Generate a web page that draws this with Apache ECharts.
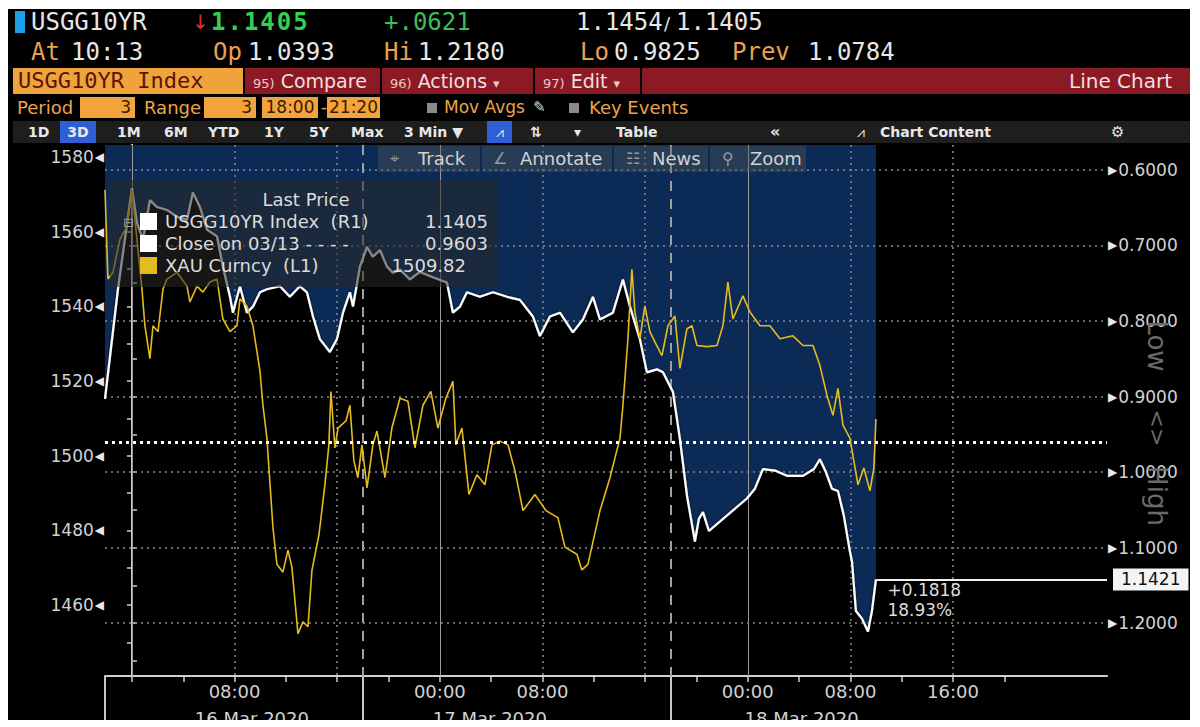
<!DOCTYPE html>
<html><head><meta charset="utf-8">
<script src="https://cdn.jsdelivr.net/npm/echarts@6/dist/echarts.min.js"></script>
<style>
body{margin:0;width:1200px;height:727px;background:#fff;overflow:hidden;position:relative;font-family:'DejaVu Sans',sans-serif;}
#panel{position:absolute;left:8px;top:9px;width:1182px;height:711px;background:#000;}
#chart{position:absolute;left:0;top:0;width:1200px;height:727px;}
.t{position:absolute;white-space:pre;line-height:24px;}
.mono{font-family:'DejaVu Sans Mono',monospace;font-size:24px;}
.or{color:#e9a14a;}
.wh{color:#e6e6e6;}
.btn{position:absolute;top:68px;height:26px;line-height:26px;background:#8c1a25;color:#f4dede;font-size:19px;white-space:pre;}
.btn small{font-size:13px;color:#f0c8c8;}
.ibox{position:absolute;top:97px;height:21px;line-height:21px;background:#f2a33c;color:#3a1a00;font-size:17px;white-space:pre;}
.r4{position:absolute;top:97px;height:21px;line-height:21px;color:#eda447;font-size:17px;white-space:pre;}
.sq{position:absolute;top:103px;width:10px;height:10px;background:#8a8a8a;}
.r5{position:absolute;top:121px;height:22px;line-height:22px;color:#e8e8e8;font-size:14px;font-weight:700;white-space:pre;}
.tb{position:absolute;top:146px;height:26px;line-height:26px;background:rgba(90,90,90,0.38);color:#d2d2d2;font-size:18px;white-space:pre;}
.tb span{position:absolute;top:0;color:#9a9a9a;font-size:16px;}
#leg{position:absolute;left:110px;top:180px;width:388px;height:107px;background:rgba(40,40,40,0.55);color:#dcdcdc;font-size:18px;}
#leg div{position:absolute;white-space:pre;line-height:21px;}
#leg .sw{width:17px;height:17px;}
.lh{position:absolute;left:1157px;transform:translate(-50%,-50%) rotate(90deg);color:#6a6a6a;font-size:26px;white-space:pre;line-height:30px;}
#mask{position:absolute;left:0;top:720px;width:1200px;height:7px;background:#fff;}
</style></head>
<body>
<div id="panel"></div>
<div id="chart"></div>

<!-- header row 1 -->
<div style="position:absolute;left:15px;top:11px;width:10px;height:22px;background:#1e9fe8"></div>
<div class="t mono wh" style="left:31px;top:10px">USGG10YR</div>
<div class="t" style="left:192px;top:10px;color:#e2302a;font-size:20px">↓</div>
<div class="t mono" style="left:211px;top:10px;color:#34d24c;font-weight:bold;letter-spacing:2px">1.1405</div>
<div class="t mono" style="left:384px;top:10px;color:#3bbf57">+.0621</div>
<div class="t mono wh" style="left:576px;top:10px">1.1454</div>
<div class="t wh" style="left:664px;top:12px;font-size:18px">/</div>
<div class="t mono wh" style="left:676px;top:10px">1.1405</div>
<!-- header row 2 -->
<div class="t mono or" style="left:31px;top:40px">At</div>
<div class="t mono wh" style="left:71px;top:40px">10:13</div>
<div class="t mono or" style="left:213px;top:40px">Op</div>
<div class="t mono wh" style="left:248px;top:40px">1.0393</div>
<div class="t mono or" style="left:384px;top:40px">Hi</div>
<div class="t mono wh" style="left:418px;top:40px">1.2180</div>
<div class="t mono or" style="left:580px;top:40px">Lo</div>
<div class="t mono wh" style="left:614px;top:40px">0.9825</div>
<div class="t mono or" style="left:732px;top:40px">Prev</div>
<div class="t mono wh" style="left:808px;top:40px">1.0784</div>
<!-- row 3 -->
<div style="position:absolute;left:13px;top:68px;width:230px;height:26px;line-height:26px;background:#f0a33a;color:#5a1408;font-family:'DejaVu Sans Mono',monospace;font-size:22px;white-space:pre;padding-left:5px;box-sizing:border-box">USGG10YR Index</div>
<div class="btn" style="left:245px;width:135px;padding-left:8px;box-sizing:border-box"><small>95)</small> Compare</div>
<div class="btn" style="left:382px;width:151px;padding-left:8px;box-sizing:border-box"><small>96)</small> Actions <small>▾</small></div>
<div class="btn" style="left:535px;width:105px;padding-left:8px;box-sizing:border-box"><small>97)</small> Edit <small>▾</small></div>
<div class="btn" style="left:642px;width:548px;text-align:right;padding-right:18px;box-sizing:border-box;font-size:20px">Line Chart</div>
<!-- row 4 -->
<div class="r4" style="left:17px;font-size:18px">Period</div>
<div class="ibox" style="left:80px;width:55px;text-align:right;padding-right:4px;box-sizing:border-box">3</div>
<div class="r4" style="left:144px;font-size:18px">Range</div>
<div class="ibox" style="left:204px;width:52px;text-align:right;padding-right:4px;box-sizing:border-box">3</div>
<div class="ibox" style="left:262px;width:56px;text-align:center">18:00</div>
<div class="r4" style="left:321px">-</div>
<div class="ibox" style="left:327px;width:53px;text-align:center">21:20</div>
<div class="sq" style="left:427px"></div>
<div class="r4" style="left:444px;font-size:17px">Mov Avgs</div>
<div class="r4" style="left:533px;color:#cfcfcf;font-size:15px">✎</div>
<div class="sq" style="left:569px"></div>
<div class="r4" style="left:589px;font-size:18px">Key Events</div>
<!-- row 5 -->
<div style="position:absolute;left:13px;top:121px;width:1177px;height:22px;background:#1e1e1e"></div>
<div class="r5" style="left:28px">1D</div>
<div class="r5" style="left:60px;width:36px;text-align:center;background:#2f5fd6">3D</div>
<div class="r5" style="left:117px">1M</div>
<div class="r5" style="left:164px">6M</div>
<div class="r5" style="left:208px">YTD</div>
<div class="r5" style="left:264px">1Y</div>
<div class="r5" style="left:309px">5Y</div>
<div class="r5" style="left:351px">Max</div>
<div class="r5" style="left:404px">3 Min ▼</div>
<div class="r5" style="left:487px;width:25px;text-align:center;background:#2f5fd6;font-weight:400">⩘</div>
<div class="r5" style="left:530px">⇅</div>
<div class="r5" style="left:574px">▾</div>
<div class="r5" style="left:616px">Table</div>
<div class="r5" style="left:770px;font-size:16px">«</div>
<div class="r5" style="left:857px;font-weight:400">⩘</div>
<div class="r5" style="left:880px">Chart Content</div>
<div class="r5" style="left:1111px;font-size:15px">⚙</div>
<!-- chart toolbar -->
<div class="tb" style="left:378px;width:102px"><span style="left:12px">⌖</span><b style="position:absolute;left:40px;font-weight:400">Track</b></div>
<div class="tb" style="left:482px;width:130px"><span style="left:11px">∠</span><b style="position:absolute;left:38px;font-weight:400">Annotate</b></div>
<div class="tb" style="left:614px;width:94px"><span style="left:12px">☷</span><b style="position:absolute;left:38px;font-weight:400">News</b></div>
<div class="tb" style="left:710px;width:96px"><span style="left:12px">⚲</span><b style="position:absolute;left:40px;font-weight:400">Zoom</b></div>
<!-- legend -->
<div id="leg">
  <div style="width:388px;text-align:center;top:9px;left:2px">Last Price</div>
  <div style="left:13px;top:32px;color:#999;font-size:13px">⊟</div>
  <div class="sw" style="left:30px;top:33px;background:#fff"></div>
  <div style="left:55px;top:31px">USGG10YR Index  (R1)</div>
  <div style="right:10px;top:31px">1.1405</div>
  <div class="sw" style="left:30px;top:55px;background:#fff"></div>
  <div style="left:55px;top:53px">Close on 03/13 - - - -</div>
  <div style="right:10px;top:53px">0.9603</div>
  <div class="sw" style="left:30px;top:77px;background:#e6bb1e"></div>
  <div style="left:55px;top:75px">XAU Curncy  (L1)</div>
  <div style="right:32px;top:75px">1509.82</div>
</div>
<div class="lh" style="top:346px">Low</div>
<div class="lh" style="top:428px;font-size:22px">&lt;&gt;</div>
<div class="lh" style="top:496px">High</div>
<div id="mask"></div>

<script>
// ---- data (hours since 16 Mar 2020 00:00) ----
const xMin = -2.1, xMax = 76;
const tickHours = [0,4,8,12,16,20,24,28,32,36,40,44,48,52,56,60,64,68];
const labelHours = [8,24,32,48,56,64];
const midnightHours = [0,24,48];
const dottedHours = [8,16,32,40,56,64];
const sessionBreakHours = [18,42];
const dateLabelHours = [9.35,27.9,52.2];
const dateLabels = ['16 Mar 2020','17 Mar 2020','18 Mar 2020'];
const goldTicks = [1460,1480,1500,1520,1540,1560,1580];
const goldMinorTicks = [1450,1460,1470,1480,1490,1500,1510,1520,1530,1540,1550,1560,1570,1580];
const yieldTicks = [0.6,0.7,0.8,0.9,1.0,1.1,1.2];
const yieldMinorTicks = [0.6,0.65,0.7,0.75,0.8,0.85,0.9,0.95,1.0,1.05,1.1,1.15,1.2,1.25];
const closePrev = 0.9603;
const lastYield = 1.1421;
const lastGold = 1509.82;
const changeText = ['+0.1818','18.93%'];

// USGG10YR yield [hour, %]
const yieldPoints = [
[-2.10,0.903],[-1.09,0.758],[0,0.624],[0.39,0.670],[0.86,0.692],[1.40,0.640],[1.95,0.649],[2.73,0.653],
[3.51,0.662],[4.29,0.666],[4.75,0.630],[5.30,0.649],[5.85,0.679],[6.63,0.688],[7.09,0.728],[7.64,0.768],
[7.87,0.789],[8.42,0.754],[8.96,0.789],[9.43,0.781],[9.98,0.762],[10.52,0.758],[11.54,0.754],[12.31,0.768],
[13.09,0.754],[13.64,0.762],[14.11,0.794],[14.65,0.824],[15.43,0.841],[15.98,0.824],[16.45,0.789],[16.99,0.762],
[17.23,0.781],[17.77,0.728],[18.32,0.702],[18.78,0.715],[19.33,0.706],[19.88,0.728],[20.34,0.736],[20.89,0.732],
[21.67,0.745],[22.45,0.735],[23.46,0.742],[24.55,0.749],[25.02,0.789],[25.57,0.781],[26.11,0.762],[27.12,0.768],
[28.14,0.762],[29.23,0.768],[30.24,0.772],[31.25,0.794],[31.80,0.820],[32.58,0.794],[33.36,0.789],[34.37,0.815],
[35.15,0.798],[35.93,0.768],[36.48,0.798],[37.49,0.789],[38.27,0.745],[38.82,0.781],[39.59,0.824],[40.14,0.868],
[40.92,0.864],[41.39,0.868],[42.17,0.894],[42.71,0.956],[43.10,1.009],[43.26,1.031],[43.88,1.092],[44.19,1.062],
[44.51,1.053],[44.97,1.078],[47.93,1.035],[48.56,1.022],[49.18,0.996],[50.12,0.998],[51.05,1.005],[52.30,1.005],
[53.16,0.996],[53.62,0.983],[54.09,1.000],[54.56,1.022],[55.03,1.025],[55.49,1.058],[55.96,1.105],[56.12,1.118],
[56.43,1.184],[56.90,1.194],[57.37,1.211],[57.68,1.184],[57.99,1.1421]
];

// XAU Curncy gold price [hour, USD]
const goldPoints = [
[-2.10,1571.2],[-1.87,1547.3],[-1.48,1549.1],[-0.94,1557.9],[-0.39,1561.4],[0,1571.2],[0.39,1557.9],[0.78,1544.6],
[1.01,1534.8],[1.40,1526.0],[1.64,1534.8],[2.03,1533.2],[2.42,1544.6],[2.73,1547.3],[3.51,1549.1],[4.29,1545.4],
[4.52,1541.2],[5.07,1545.4],[5.53,1543.8],[6.08,1546.5],[6.63,1547.3],[7.09,1536.6],[7.64,1533.2],[8.18,1534.8],
[8.42,1542.0],[8.96,1540.1],[9.43,1534.8],[9.74,1527.9],[9.98,1522.6],[10.21,1513.5],[10.52,1504.7],[10.99,1480.8],
[11.30,1470.9],[11.77,1468.8],[12.16,1474.7],[12.47,1470.1],[12.94,1452.3],[13.33,1455.5],[13.72,1454.2],[14.03,1469.3],
[14.58,1478.9],[15.04,1492.2],[15.35,1502.9],[15.51,1517.2],[15.82,1502.1],[16.06,1507.4],[16.68,1509.3],[16.99,1513.5],
[17.30,1498.6],[17.61,1494.1],[17.93,1502.9],[18.32,1491.4],[18.78,1502.9],[19.10,1506.6],[19.72,1494.1],[20.26,1507.4],
[20.89,1515.4],[21.51,1514.6],[22.06,1502.1],[22.68,1513.5],[23.30,1517.2],[23.85,1507.4],[24.47,1515.4],[25.02,1519.9],
[25.25,1502.9],[25.72,1507.4],[26.27,1489.6],[26.89,1494.9],[27.51,1492.2],[28.06,1502.9],[28.68,1503.9],[29.31,1502.9],
[29.85,1496.0],[30.48,1485.3],[31.41,1489.6],[32.27,1485.3],[33.20,1483.4],[33.75,1475.5],[34.68,1473.6],[35.07,1469.4],
[35.54,1470.9],[36.48,1485.3],[37.26,1494.1],[37.65,1499.4],[38.04,1504.7],[38.27,1513.5],[38.66,1531.3],[38.97,1549.9],
[39.20,1538.5],[39.59,1531.3],[39.98,1540.1],[40.37,1533.2],[40.76,1530.5],[41.31,1526.8],[41.78,1534.8],[42.32,1537.4],
[42.71,1523.4],[43.26,1534.0],[43.65,1534.8],[44.04,1529.5],[44.82,1529.2],[45.60,1529.5],[46.06,1534.8],[46.45,1546.5],
[46.84,1536.6],[47.62,1542.8],[48.17,1538.5],[48.95,1534.8],[49.73,1534.8],[50.51,1531.3],[51.52,1532.1],[52.30,1529.5],
[53.08,1529.5],[53.62,1524.2],[54.17,1516.2],[54.64,1510.8],[55.03,1518.0],[55.42,1508.2],[55.96,1504.7],[56.59,1492.2],
[57.05,1496.7],[57.52,1490.6],[57.83,1496.7],[57.99,1509.82]
];

const chart = echarts.init(document.getElementById('chart'), null, {renderer:'svg'});
const lastHour = yieldPoints[yieldPoints.length-1][0];
const labelColor = '#d2d2d2';
const axisColor = '#d0d0d0';
const FONT = 'DejaVu Sans';

const gridLines = []
  .concat(midnightHours.map(h => ({xAxis:h, lineStyle:{color:'#9a9a9a', width:1, type:'solid'}})))
  .concat(dottedHours.map(h => ({xAxis:h, lineStyle:{color:'#8a8a8a', width:1.5, type:[2,4]}})))
  .concat(sessionBreakHours.map(h => ({xAxis:h, lineStyle:{color:'#a0a0a0', width:2, type:[10,8]}})))
  .concat(yieldTicks.map(v => ({yAxis:v, lineStyle:{color:'#8a8a8a', width:1.5, type:[2,4]}})));

const option = {
  animation:false,
  backgroundColor:'transparent',
  grid:{left:105, right:93, top:145, bottom:49, containLabel:false},
  xAxis:[
    {type:'value', min:xMin, max:xMax, position:'bottom',
     axisLine:{show:true, lineStyle:{color:axisColor, width:2}},
     axisTick:{show:true, customValues:tickHours, length:6, lineStyle:{color:axisColor, width:1.5}},
     axisLabel:{customValues:labelHours, margin:6, color:labelColor, fontSize:18, fontFamily:FONT,
       formatter:v => String(((Math.round(v)%24)+24)%24).padStart(2,'0') + ':00'},
     splitLine:{show:false}},
    {type:'value', min:xMin, max:xMax, position:'bottom', offset:27,
     axisLine:{show:false}, axisTick:{show:false},
     axisLabel:{customValues:dateLabelHours, margin:6, color:labelColor, fontSize:18, fontFamily:FONT,
       formatter:v => {let b=0; dateLabelHours.forEach((h,i)=>{ if (Math.abs(h-v) < Math.abs(dateLabelHours[b]-v)) b=i; }); return dateLabels[b];}},
     splitLine:{show:false}},
    {type:'value', min:xMin, max:xMax, position:'bottom',
     axisLine:{show:false}, axisLabel:{show:false},
     axisTick:{show:true, customValues:[xMin].concat(sessionBreakHours), length:44, lineStyle:{color:'#c8c8c8', width:2}},
     splitLine:{show:false}}
  ],
  yAxis:[
    {type:'value', min:1441, max:1583.2, position:'left',
     axisLine:{show:true, lineStyle:{color:axisColor, width:2}},
     axisTick:{show:true, customValues:goldMinorTicks, length:5, lineStyle:{color:axisColor, width:1.5}},
     axisLabel:{customValues:goldTicks, margin:1, formatter:v => '{v|' + v + '}{t|◀}',
       rich:{v:{color:labelColor, fontSize:17, fontFamily:FONT}, t:{color:'#e8e8e8', fontSize:12, fontFamily:FONT, padding:[0,0,0,1]}}},
     splitLine:{show:false}},
    {type:'value', min:0.567, max:1.27, inverse:true, position:'right',
     axisLine:{show:true, lineStyle:{color:axisColor, width:2}},
     axisTick:{show:true, customValues:yieldMinorTicks, length:5, lineStyle:{color:axisColor, width:1.5}},
     axisLabel:{customValues:yieldTicks, margin:1, formatter:v => '{t|▶}{v|' + v.toFixed(4) + '}',
       rich:{v:{color:labelColor, fontSize:17, fontFamily:FONT}, t:{color:'#e8e8e8', fontSize:12, fontFamily:FONT, padding:[0,1,0,0]}}},
     splitLine:{show:false}}
  ],
  series:[
    {name:'fill', type:'line', xAxisIndex:0, yAxisIndex:1, data:yieldPoints, showSymbol:false, silent:true, z:1,
     lineStyle:{width:0, opacity:0}, areaStyle:{color:'#0b2a55', opacity:1, origin:'start'},
     markLine:{z:3, silent:true, symbol:'none', label:{show:false}, data:gridLines}},
    {name:'USGG10YR Index', type:'line', xAxisIndex:0, yAxisIndex:1, data:yieldPoints, showSymbol:false, z:4,
     lineStyle:{color:'#ffffff', width:2.2, shadowColor:'rgba(0,0,0,0.8)', shadowBlur:2}, itemStyle:{color:'#fff'},
     markLine:{z:7, silent:true, symbol:'none',
       label:{show:true, position:'end', distance:6, formatter:String(lastYield), color:'#111', backgroundColor:'#f4f4f4',
              fontSize:17, fontFamily:FONT, padding:[3,8,2,8]},
       data:[
         {yAxis:closePrev, label:{show:false}, lineStyle:{color:'#ffffff', width:3, type:[3,4]}},
         [{coord:[lastHour,lastYield], lineStyle:{color:'#f0f0f0', width:2, type:'solid'}},{coord:[xMax,lastYield]}]
       ]},
     markPoint:{z:7, silent:true, symbol:'circle', symbolSize:1, itemStyle:{color:'rgba(0,0,0,0)'},
       label:{show:true, color:'#dcdcdc', fontSize:17, fontFamily:FONT, align:'left', verticalAlign:'top'},
       data:[
         {coord:[lastHour,lastYield], label:{position:[12,3], formatter:changeText[0]}},
         {coord:[lastHour,lastYield], label:{position:[12,23], formatter:changeText[1]}}
       ]}},
    {name:'XAU Curncy', type:'line', xAxisIndex:0, yAxisIndex:0, data:goldPoints, showSymbol:false, z:6,
     lineStyle:{color:'#e6bb1e', width:1.6}, itemStyle:{color:'#e6bb1e'},
     markLine:{z:8, silent:true, symbol:'none',
       data:[{yAxis:lastGold, lineStyle:{opacity:0, width:0},
         label:{show:true, position:'start', distance:5, formatter:String(lastGold), color:'#3b2c00', backgroundColor:'#e4b92a',
                fontSize:17, fontFamily:FONT, padding:[3,5,2,6]}}]}}
  ]
};
chart.setOption(option);
</script>
</body></html>
